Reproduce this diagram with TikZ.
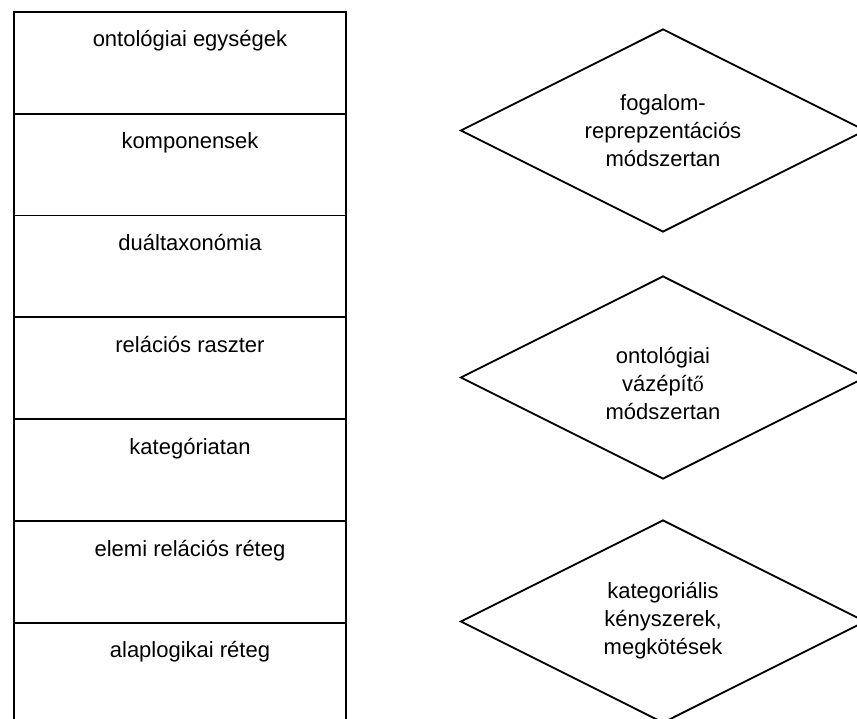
\documentclass[tikz,border=0pt]{standalone}
\usepackage{fontspec}
\setmainfont{Liberation Sans}
\newfontfamily\serifglyph{Liberation Serif}
\usetikzlibrary{shapes.geometric}
\begin{document}
\begin{tikzpicture}[x=1pt,y=-1pt,
  every node/.style={font=\fontsize{22}{28}\selectfont},
  layerbox/.style={draw, line width=1.8pt, rectangle, inner sep=0pt,
    minimum width=332pt, minimum height=101.8pt, anchor=north west},
  layertext/.style={anchor=base, inner sep=0pt},
  methodbox/.style={draw, line width=1.8pt, diamond, inner sep=0pt,
    minimum width=405pt, minimum height=203pt},
  methodtext/.style={align=center, inner sep=0pt, anchor=center}]
\useasboundingbox (0,0) rectangle (857,719);
\clip (0,0) rectangle (857,719);

% left stack of layers
\node[layerbox] (b1) at (13,11)    {};
\node[layerbox] (b2) at (13,112.8) {};
\node[layerbox] (b3) at (13,214.6) {};
\node[layerbox] (b4) at (13,316.4) {};
\node[layerbox] (b5) at (13,418.2) {};
\node[layerbox] (b6) at (13,520)   {};
\node[layerbox] (b7) at (13,621.8) {};

\node[layertext] (t1) at (190,47)    {ontológiai egységek};
\node[layertext] (t2) at (190,148.8) {komponensek};
\node[layertext] (t3) at (190,250.6) {duáltaxonómia};
\node[layertext] (t4) at (190,352.4) {relációs raszter};
\node[layertext] (t5) at (190,454.2) {kategóriatan};
\node[layertext] (t6) at (190,556)   {elemi relációs réteg};
\node[layertext] (t7) at (190,657.8) {alaplogikai réteg};

% methods on the right
\node[methodbox] (d1) at (663,130.5) {};
\node[methodbox] (d2) at (663,377.5) {};
\node[methodbox] (d3) at (663,621.5) {};

\node[methodtext] (m1) at (663,131) {fogalom-\\reprepzentációs\\módszertan};
\node[methodtext] (m2) at (663,384) {ontológiai\\vázépít{\serifglyph ő}\\módszertan};
\node[methodtext] (m3) at (663,621) {kategoriális\\kényszerek,\\megkötések};
\end{tikzpicture}
\end{document}
